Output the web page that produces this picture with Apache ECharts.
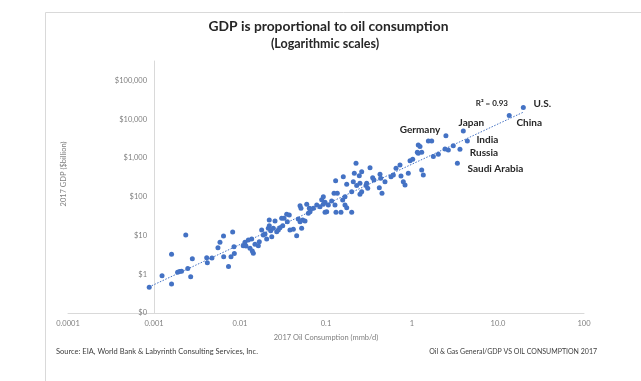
<!DOCTYPE html>
<html><head><meta charset="utf-8">
<script src="https://cdn.jsdelivr.net/npm/echarts@6/dist/echarts.min.js"></script>
<style>html,body{margin:0;padding:0;background:#fff}#c{width:641px;height:381px}</style>
</head><body><div id="c"></div>
<script>
// 2017 oil consumption (mmb/d) and 2017 GDP ($ billion) per country
const oilConsumption = [
 0.00088,0.00124,0.0016,0.0016,0.00188,0.00198,0.00209,0.00234,0.00247,0.00267,
 0.00279,0.0041,0.00417,0.00472,0.00554,0.00585,0.00643,0.00646,0.00735,0.00822,
 0.00851,0.00786,0.00859,0.0109,0.01174,0.01143,0.0125,0.01368,0.01306,0.01429,
 0.0139,0.01493,0.01633,0.01676,0.01787,0.01866,0.01953,0.02043,0.02133,0.02192,
 0.0219,0.0234,0.02276,0.02439,0.02553,0.02673,0.02787,0.02917,0.03052,0.0314,
 0.0325,0.0349,0.0355,0.0374,0.0381,0.0417,0.0456,0.0476,0.0499,0.0499,
 0.0512,0.0521,0.0536,0.057,0.0597,0.0623,0.064,0.0652,0.0712,0.078,
 0.0852,0.0891,0.0931,0.0974,0.1019,0.1064,0.0931,0.0974,0.1164,0.1239,
 0.1353,0.1272,0.1306,0.1494,0.1563,0.1663,0.1663,0.1741,0.1741,0.1589,
 0.199,0.1294,0.199,0.2134,0.2076,0.2274,0.2438,0.26,0.2483,0.2483,
 0.26,0.2917,0.297,0.3054,0.325,0.349,0.3614,0.4246,0.4325,0.4168,
 0.4478,0.4853,0.5702,0.6067,0.6517,0.7248,0.7447,0.7924,0.8296,0.9058,
 0.9485,1.019,1.183,1.183,1.549,1.695,1.239,1.153,1.297,1.771,
 2.024,2.42,2.644,3.02,1.297,1.353,0.2234
];
const gdpBillion = [
 0.46,0.92,0.56,3.3,1.12,1.18,1.19,10.3,1.41,0.86,
 2.52,2.67,1.99,2.62,4.84,6.7,9.7,2.84,1.58,12.2,
 5.14,2.84,3.43,5.46,5.36,6.68,7.65,8.13,4.68,3.47,
 3.98,5.93,5.46,6.92,13.9,10.3,10.9,8.13,15.3,17.9,
 25.1,9.3,13.3,15.3,23.7,12.5,13.9,15.9,27.8,17.9,
 27.8,35.2,22.7,33.8,13.9,14.5,9.9,26.7,22.7,58.7,
 50.4,15.3,25.1,23.7,63.8,37.4,50.4,41.1,50.4,61.2,
 55.3,84,100,72,41.1,61.2,63.8,39.7,77.6,123,
 123,61.2,39.7,39.7,82.4,100,61.2,52.1,209,329,
 39.7,259,135,403,244,193,349,443,222,116,
 135,193,222,165,562,310,270,379,299,171,
 123,244,329,364,542,659,343,244,201,403,
 851,925,1321,2163,2748,2748,1959,1403,1403,1081,
 1245,1706,1607,2075,490,364,730
];
// Labelled countries
const countryNames = ['U.S.','China','Japan','Germany','India','Russia','Saudi Arabia'];
const countryOil = [19.7, 13.5, 3.95, 2.48, 4.4, 3.61, 3.37];
const countryGdp = [19860, 12360, 4977, 3758, 2748, 1679, 730];
// Power trendline end points
const trendOil = [0.000875, 20.0];
const trendGdp = [0.469, 15380];
const rSquaredText = 'R\u00b2 = 0.93';
// Tick labels (one per decade)
const xTickExp0 = -4;
const xTickLabels = ['0.0001','0.001','0.01','0.1','1','10.0','100'];
const yTickExp0 = -1;
const yTickLabels = ['$0','$1','$10','$100','$1,000','$10,000','$100,000'];

const titleText = 'GDP is proportional to oil consumption';
const subtitleText = '(Logarithmic scales)';
const xName = '2017 Oil Consumption (mmb/d)';
const yName = '2017 GDP ($billion)';
const sourceText = 'Source: EIA, World Bank & Labyrinth Consulting Services, Inc.';
const refText = 'Oil & Gas General/GDP VS OIL CONSUMPTION 2017';

// label placement (style, not data)
const countryLabelOffsets = [[19,-4],[20,7],[8,-8],[-26,-6],[20,-1],[24,4],[38,6]];

const FONT = 'Lato, "Open Sans", sans-serif';
const BLUE = '#4472C4';

function decadeFormatter(exp0, labels) {
  return function (v) {
    const l = Math.log10(v);
    const e = Math.round(l);
    if (Math.abs(l - e) > 0.01) return '';
    const i = e - exp0;
    return (i >= 0 && i < labels.length) ? labels[i] : '';
  };
}

const points = oilConsumption.map((x, i) => [x, gdpBillion[i]]);
const countries = countryNames.map((n, i) => ({
  name: n, value: [countryOil[i], countryGdp[i]],
  label: { offset: countryLabelOffsets[i] }
}));
const trend = trendOil.map((x, i) => [x, trendGdp[i]]);

const chart = echarts.init(document.getElementById('c'), null, { renderer: 'canvas' });
chart.setOption({
  backgroundColor: '#fff',
  animation: false,
  grid: { left: 68, right: 57, top: 61, bottom: 68, containLabel: false, outerBoundsMode: 'none' },
  xAxis: {
    type: 'log', logBase: 10, min: 0.0001, max: 100, interval: 1,
    name: xName, nameLocation: 'middle', nameGap: 21, nameMoveOverlap: false,
    nameTextStyle: { fontFamily: FONT, fontSize: 7.5, color: '#7f7f7f' },
    axisLine: { show: true, lineStyle: { color: '#d9d9d9', width: 1 } },
    axisTick: { show: false }, splitLine: { show: false },
    axisLabel: { fontFamily: FONT, fontSize: 7.5, color: '#7f7f7f', margin: 7,
      formatter: decadeFormatter(xTickExp0, xTickLabels) }
  },
  yAxis: {
    type: 'log', logBase: 10, min: 0.1, max: Math.pow(10, 5.5), interval: 1,
    position: 'left', offset: -86,
    name: yName, nameLocation: 'middle', nameGap: 86, nameRotate: 90, nameMoveOverlap: false,
    nameTextStyle: { fontFamily: FONT, fontSize: 7.5, color: '#7f7f7f', padding: [0, 0, 0, 26] },
    axisLine: { show: true, lineStyle: { color: '#d9d9d9', width: 1 } },
    axisTick: { show: false }, splitLine: { show: false },
    axisLabel: { fontFamily: FONT, fontSize: 7.5, color: '#7f7f7f', margin: 7,
      formatter: decadeFormatter(yTickExp0, yTickLabels) }
  },
  series: [
    { type: 'line', data: trend, symbol: 'none', silent: true, z: 1,
      lineStyle: { color: BLUE, width: 1, type: [1.5, 1.5] },
      endLabel: { show: true, formatter: rSquaredText, distance: 0, offset: [-32, -8],
        align: 'center', verticalAlign: 'middle',
        fontFamily: FONT, fontSize: 8, fontWeight: 'bold', color: '#262626' } },
    { type: 'scatter', data: points, symbolSize: 5, z: 2,
      itemStyle: { color: BLUE, opacity: 1 } },
    { type: 'scatter', data: countries, symbolSize: 5, z: 3,
      itemStyle: { color: BLUE, opacity: 1 },
      label: { show: true, position: 'inside', formatter: '{b}',
        fontFamily: FONT, fontSize: 10, fontWeight: 'bold', color: '#262626' } }
  ],
  graphic: [
    { type: 'line', shape: { x1: 45.5, y1: 12.5, x2: 45.5, y2: 381 }, style: { stroke: '#d9d9d9', lineWidth: 1 }, silent: true },
    { type: 'line', shape: { x1: 45.5, y1: 12.5, x2: 641, y2: 12.5 }, style: { stroke: '#d9d9d9', lineWidth: 1 }, silent: true },
    { type: 'text', x: 328.5, y: 27, style: { text: titleText, textAlign: 'center', textVerticalAlign: 'middle',
        fontFamily: FONT, fontSize: 13.8, fontWeight: 'bold', fill: '#262626' } },
    { type: 'text', x: 325, y: 43.5, style: { text: subtitleText, textAlign: 'center', textVerticalAlign: 'middle',
        fontFamily: FONT, fontSize: 12.5, fontWeight: 'bold', fill: '#262626' } },
    { type: 'text', x: 56, y: 352, style: { text: sourceText, textVerticalAlign: 'middle',
        fontFamily: FONT, fontSize: 7.5, fill: '#404040' } },
    { type: 'text', x: 597, y: 352, style: { text: refText, textAlign: 'right', textVerticalAlign: 'middle',
        fontFamily: FONT, fontSize: 7, fill: '#404040' } }
  ]
});
</script></body></html>
